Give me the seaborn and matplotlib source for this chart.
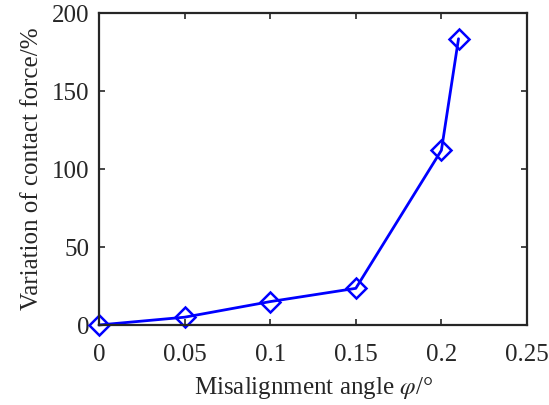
import matplotlib
matplotlib.use("Agg")
import matplotlib.pyplot as plt
import seaborn as sns
import pandas as pd

angle = [0, 0.05, 0.1, 0.15, 0.2, 0.21]
variation = [0, 5, 15, 23.5, 112, 183.5]
x_ticks = [0, 0.05, 0.1, 0.15, 0.2, 0.25]
x_tick_labels = ["0", "0.05", "0.1", "0.15", "0.2", "0.25"]
y_ticks = [0, 50, 100, 150, 200]

sns.set_style("ticks")
plt.rcParams["font.family"] = ["Liberation Serif", "DejaVu Serif"]
plt.rcParams["mathtext.fontset"] = "stix"

df = pd.DataFrame({"angle": angle, "variation": variation})

fig = plt.figure(figsize=(5.49, 4.05), dpi=100)
ax = fig.add_axes([99 / 549, 1 - 325 / 405, (527 - 99) / 549, (325 - 13) / 405])

sns.lineplot(data=df, x="angle", y="variation", ax=ax, color="#0000ff",
             linewidth=2, marker="D", markersize=10, markerfacecolor="none",
             markeredgecolor="#0000ff", markeredgewidth=1.8, clip_on=False)

ax.set_xlim(0, 0.25)
ax.set_ylim(0, 200)
ax.set_xticks(x_ticks)
ax.set_xticklabels(x_tick_labels)
ax.set_yticks(y_ticks)
ax.tick_params(direction="in", length=4, width=1.2, labelsize=18,
               top=True, right=True, colors="#262626")
ax.tick_params(axis="x", pad=14)
ax.tick_params(axis="y", pad=7)
for s in ax.spines.values():
    s.set_linewidth(1.6)
    s.set_color("#262626")
    s.set_visible(True)

ax.set_xlabel(r"Misalignment angle $\varphi$/°", fontsize=18, color="#262626", labelpad=6)
ax.set_ylabel("Variation of contact force/%", fontsize=18, color="#262626", labelpad=6)

fig.savefig("out.png", dpi=100)
